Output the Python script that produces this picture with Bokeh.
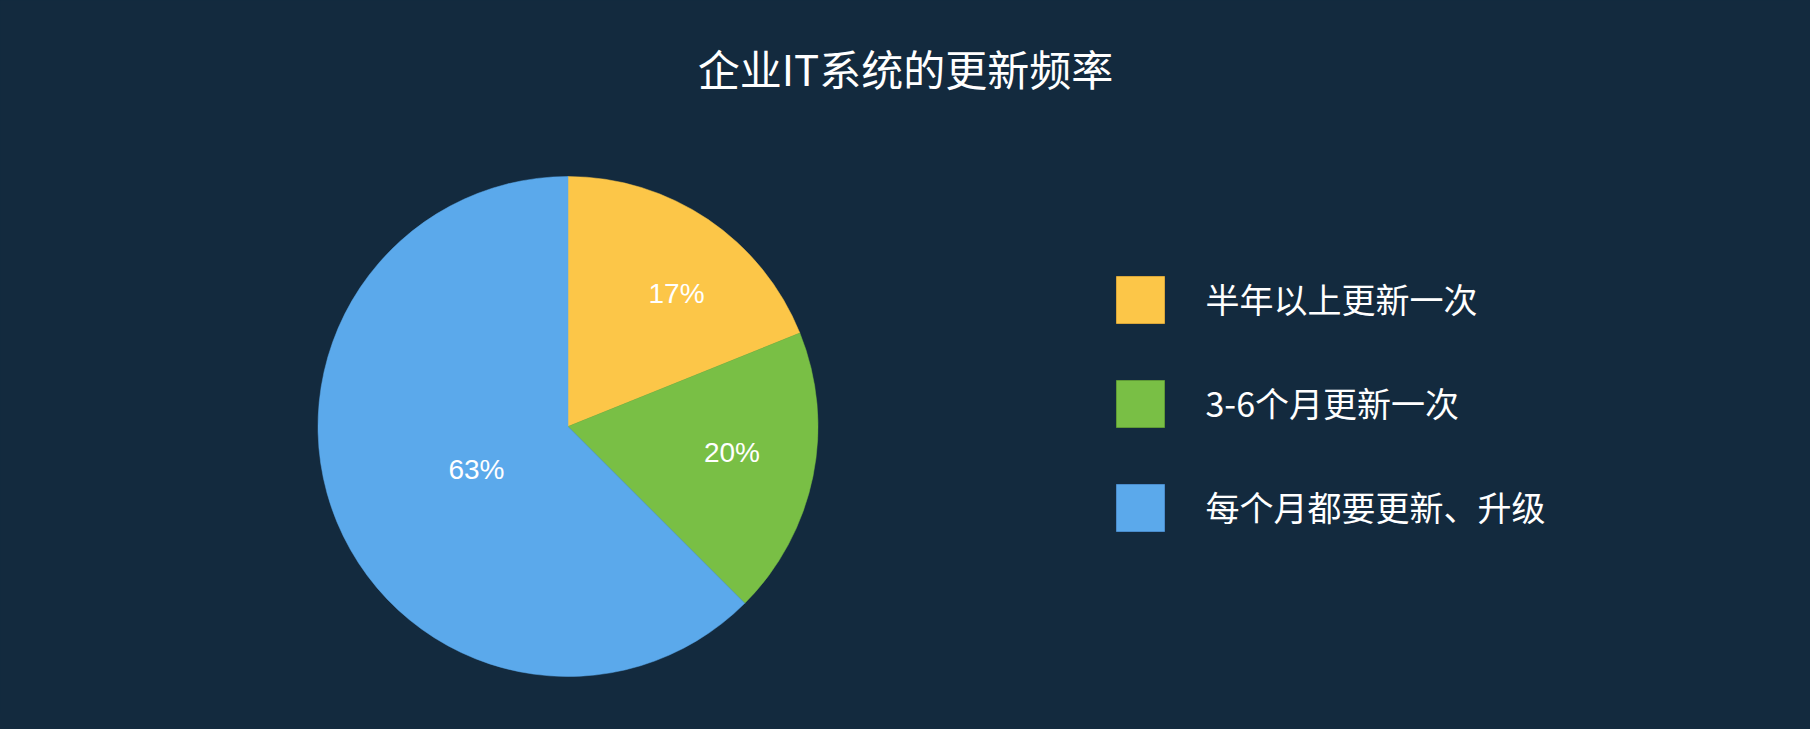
import math
from bokeh.plotting import figure
from bokeh.models import Range1d, ColumnDataSource
from bokeh.core.properties import value
from bokeh.embed import file_html
from bokeh.resources import INLINE

# ---- data ----
title_text = "企业IT系统的更新频率"
categories = ["半年以上更新一次", "3-6个月更新一次", "每个月都要更新、升级"]
label_texts = ["17%", "20%", "63%"]
# slice shares as drawn in the picture (percent of the full circle)
slice_share = [18.9, 18.6, 62.5]
colors = ["#fcc648", "#79bf45", "#5ba9eb"]
edge_colors = ["#d9a63a", "#5f9a36", "#4a8ccc"]

# ---- layout / style ----
BG = "#132a3e"
W, H = 1794, 713
cx, cy, R = 567.5, 287.0, 250.0
label_nudge_deg = [5.3, -2.4, -2.6]
label_radius = [171.3, 166.0, 101.1]

p = figure(width=W, height=H, x_range=Range1d(0, W), y_range=Range1d(0, H),
           output_backend="svg", toolbar_location=None, min_border=0,
           x_axis_type=None, y_axis_type=None, title=None,
           background_fill_color=BG, border_fill_color=BG,
           outline_line_color=None)
p.grid.visible = False

# wedges, starting at 12 o'clock and going clockwise
total = sum(slice_share)
starts, ends, mids = [], [], []
acc = 0.0
for s in slice_share:
    a0 = acc / total * 2 * math.pi
    acc += s
    a1 = acc / total * 2 * math.pi
    starts.append(math.pi / 2 - a0)
    ends.append(math.pi / 2 - a1)
    mids.append((a0 + a1) / 2)

src = ColumnDataSource(dict(x=[cx] * 3, y=[cy] * 3, start=starts, end=ends,
                            color=colors, cat=categories))
p.wedge(x="x", y="y", radius=R, start_angle="start", end_angle="end",
        direction="clock", fill_color="color", line_color="color",
        line_width=0.5, source=src)

# percentage labels
lx, ly = [], []
for m, dn, r in zip(mids, label_nudge_deg, label_radius):
    a = m + math.radians(dn)
    lx.append(cx + r * math.sin(a))
    ly.append(cy + r * math.cos(a))
p.text(x=lx, y=ly, text=label_texts, text_color="white",
       text_font=value("Liberation Sans"), text_font_size="28px",
       text_align="center", text_baseline="middle")

# title
p.text(x=[905.0], y=[646.5], text=[title_text], text_color="white",
       text_font=value("Noto Sans CJK SC"), text_font_size="42px",
       text_align="center", text_baseline="middle")

# legend
leg_x, leg_y0, leg_step = 1140.0, 413.5, 104.0
sq_y = [leg_y0 - i * leg_step for i in range(len(categories))]
p.rect(x=[leg_x] * 3, y=sq_y, width=48, height=47, fill_color=colors,
       line_color=edge_colors, line_width=1)
p.text(x=[1205.0] * 3, y=[v + 2 for v in sq_y], text=categories,
       text_color="white", text_font=value("Noto Sans CJK SC"),
       text_font_size="34px", text_align="left", text_baseline="middle")

html = file_html(p, INLINE)
html = html.replace("</head>", "<style>body{background:%s;}</style></head>" % BG, 1)
open("out.html", "w").write(html)
